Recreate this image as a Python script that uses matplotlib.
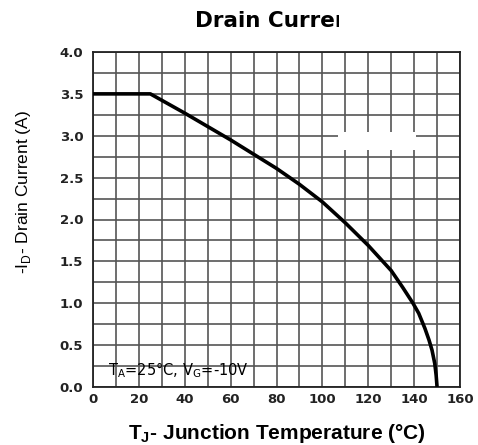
import matplotlib
matplotlib.use("Agg")
import matplotlib.pyplot as plt
from matplotlib.ticker import MultipleLocator, FormatStrFormatter
from matplotlib.patches import Rectangle
from matplotlib.transforms import Bbox

# Data
temp_c = [0, 25, 40, 60, 80, 90, 100, 110, 120, 130, 135, 139.5, 142, 144.7, 146.5, 147.8, 149, 149.6, 150]
drain_a = [3.5, 3.5, 3.27, 2.95, 2.61, 2.42, 2.21, 1.96, 1.69, 1.39, 1.19, 1.0, 0.88, 0.70, 0.56, 0.44, 0.28, 0.14, 0.0]
x_ticks = [0, 20, 40, 60, 80, 100, 120, 140, 160]
y_ticks = [0.0, 0.5, 1.0, 1.5, 2.0, 2.5, 3.0, 3.5, 4.0]

plt.rcParams['font.family'] = ['Liberation Sans', 'DejaVu Sans']

W, H = 478, 445
fig = plt.figure(figsize=(W / 100, H / 100), dpi=100)
ax = fig.add_axes([93 / W, 1 - 387 / H, (460 - 93) / W, (387 - 52) / H])

ax.set_xlim(0, 160)
ax.set_ylim(0, 4.0)
ax.set_xticks(x_ticks)
ax.set_yticks(y_ticks)
ax.xaxis.set_minor_locator(MultipleLocator(10))
ax.yaxis.set_minor_locator(MultipleLocator(0.25))
ax.yaxis.set_major_formatter(FormatStrFormatter('%.1f'))
ax.tick_params(which='both', length=0)
ax.tick_params(axis='x', pad=4)
ax.tick_params(axis='y', pad=7)
for lab in ax.get_xticklabels() + ax.get_yticklabels():
    lab.set_fontsize(9.5)
    lab.set_fontweight('bold')
    lab.set_family('DejaVu Sans')
    lab.set_color('#222222')

ax.grid(which='both', color='#555555', linewidth=1.2)
ax.set_axisbelow(True)
for s in ax.spines.values():
    s.set_linewidth(1.3)
    s.set_color('#222222')

# erased patch seen in the reference
ax.add_patch(Rectangle((107, 2.83), 34, 0.21, facecolor='white', edgecolor='none', zorder=1.5))

ax.plot(temp_c, drain_a, color='black', linewidth=2.6, zorder=3, solid_capstyle='butt')

ax.text(6.5, 0.2, r'T$_\mathregular{A}$=25°C, V$_\mathregular{G}$=-10V', fontsize=10.5,
        family='DejaVu Sans', va='center', ha='left', zorder=4)

ax.set_xlabel(r'T$_\mathregular{J}$- Junction Temperature (°C)', fontsize=15, fontweight='bold')
ax.xaxis.set_label_coords(0.5, (387 - 422) / 335)
ax.set_ylabel(r'-I$_\mathregular{D}$- Drain Current (A)', fontsize=12.5)
ax.yaxis.set_label_coords((33 - 93) / 367, (387 - 192) / 335)

t = fig.text(195 / W, 1 - 21 / H, 'Drain Current', fontsize=15.5, fontweight='bold',
             family='DejaVu Sans', ha='left', va='center')
fig.canvas.draw()
r = fig.canvas.get_renderer()
probe = fig.text(195 / W, 1 - 21 / H, 'Drain Curre', fontsize=15.5, fontweight='bold',
                 family='DejaVu Sans', ha='left', va='center')
x_end = probe.get_window_extent(r).x1
probe.remove()
t.set_clip_box(Bbox([[0, 0], [x_end + 4, H]]))
t.set_clip_on(True)

fig.savefig('out.png', dpi=100)
